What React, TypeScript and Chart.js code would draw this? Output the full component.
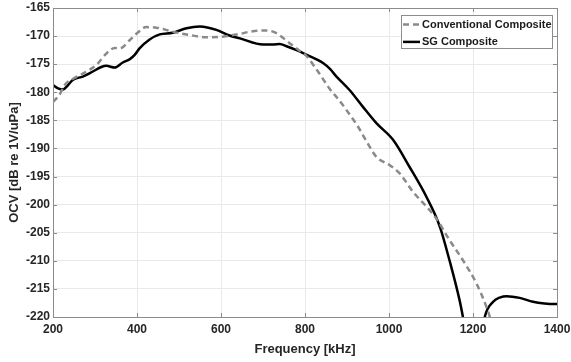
import React, { useEffect, useRef } from 'react';
import { Chart, registerables } from 'chart.js';

Chart.register(...registerables);

const convFreq = [200, 215, 228, 250, 270, 287, 305, 327, 347, 359, 383, 400, 422, 446, 465, 485, 525, 565, 604, 645, 670, 700, 724, 742, 764, 787, 803, 828, 859, 880, 899, 926, 950, 970, 1002, 1025, 1057, 1097, 1113, 1144, 1176, 1208, 1232, 1240, 1250];
const convOcv = [-181.7, -180.5, -178.7, -177.5, -176.7, -176, -175, -173.1, -172.1, -172.2, -170.7, -169.5, -168.4, -168.5, -168.8, -169.2, -169.8, -170.2, -170.1, -169.6, -169.2, -169.0, -169.2, -170.0, -171.3, -172.6, -173.5, -176, -179.4, -181.3, -183.2, -186.1, -189.2, -191.5, -193, -194.4, -197.7, -201, -202.5, -206.3, -209.9, -214, -218.2, -220, -223];

const sgFreq = [200, 212, 224, 235, 247, 271, 295, 315, 327, 347, 366, 383, 395, 406, 430, 454, 485, 518, 549, 570, 589, 620, 645, 700, 723, 740, 756, 780, 803, 843, 860, 875, 906, 938, 970, 1010, 1049, 1089, 1121, 1144, 1168, 1176, 1190, 1215, 1228, 1248, 1265, 1280, 1311, 1343, 1370, 1395, 1400];
const sgOcv = [-178.7, -179.3, -179.5, -178.8, -177.8, -177.2, -176.3, -175.5, -175.3, -175.6, -174.7, -174.1, -173.3, -172.2, -170.6, -169.7, -169.4, -168.6, -168.3, -168.5, -168.9, -169.9, -170.4, -171.5, -171.5, -171.4, -171.8, -172.5, -173.3, -174.8, -175.9, -177.2, -179.6, -182.6, -185.5, -188.5, -193.3, -198.6, -203.9, -209.9, -217, -220, -226, -226, -220, -217.3, -216.5, -216.3, -216.6, -217.3, -217.6, -217.7, -217.7];

const seriesNames = ['Conventional Composite', 'SG Composite'];
const xTitle = 'Frequency [kHz]';
const yTitle = 'OCV [dB re 1V/uPa]';
const xMin = 200, xMax = 1400, xStep = 200;
const yMin = -220, yMax = -165, yStep = 5;

const FONT = '"Liberation Sans", Arial, sans-serif';
const TEXT = '#262626';
const FRAME = '#8c8c8c';

const framePlugin = {
  id: 'frameBox',
  afterDraw(chart: any) {
    const { ctx, chartArea: a } = chart;
    ctx.save();
    ctx.strokeStyle = FRAME;
    ctx.lineWidth = 1;
    ctx.strokeRect(Math.round(a.left) + 0.5, Math.round(a.top) + 0.5, Math.round(a.right - a.left), Math.round(a.bottom - a.top));
    const xs = chart.scales.x, ys = chart.scales.y;
    ctx.beginPath();
    for (let v = xMin; v <= xMax; v += xStep) {
      const px = Math.round(xs.getPixelForValue(v)) + 0.5;
      ctx.moveTo(px, a.top); ctx.lineTo(px, a.top + 4);
      ctx.moveTo(px, a.bottom); ctx.lineTo(px, a.bottom - 4);
    }
    for (let v = yMin; v <= yMax; v += yStep) {
      const py = Math.round(ys.getPixelForValue(v)) + 0.5;
      ctx.moveTo(a.left, py); ctx.lineTo(a.left + 4, py);
      ctx.moveTo(a.right, py); ctx.lineTo(a.right - 4, py);
    }
    ctx.stroke();
    ctx.restore();
  },
};

const legendPlugin = {
  id: 'boxLegend',
  afterDraw(chart: any) {
    const { ctx, chartArea: a } = chart;
    const w = 151, h = 33;
    const x0 = Math.round(a.right - 156), y0 = Math.round(a.top + 7);
    ctx.save();
    ctx.fillStyle = '#ffffff';
    ctx.fillRect(x0, y0, w, h);
    ctx.strokeStyle = FRAME;
    ctx.lineWidth = 1;
    ctx.strokeRect(x0 + 0.5, y0 + 0.5, w, h);
    chart.data.datasets.forEach((ds: any, i: number) => {
      const y = y0 + 9.5 + i * 17.4;
      ctx.strokeStyle = ds.borderColor;
      ctx.lineWidth = ds.borderWidth;
      ctx.setLineDash(ds.borderDash || []);
      ctx.beginPath();
      ctx.moveTo(x0 + 2, y);
      ctx.lineTo(x0 + 19, y);
      ctx.stroke();
      ctx.setLineDash([]);
      ctx.fillStyle = '#1a1a1a';
      ctx.font = `bold 11px ${FONT}`;
      ctx.textBaseline = 'middle';
      ctx.textAlign = 'left';
      ctx.fillText(ds.label, x0 + 21, y + 0.5);
    });
    ctx.restore();
  },
};

export default function App() {
  const ref = useRef<HTMLCanvasElement>(null);
  useEffect(() => {
    if (!ref.current) return;
    const conv = convFreq.map((f, i) => ({ x: f, y: convOcv[i] }));
    const sg = sgFreq.map((f, i) => ({ x: f, y: sgOcv[i] }));
    const tickFont = { family: FONT, size: 12, weight: 'bold' as const };
    const titleFont = { family: FONT, size: 13, weight: 'bold' as const };
    const chart = new Chart(ref.current, {
      type: 'scatter',
      data: {
        datasets: [
          {
            label: seriesNames[0],
            data: conv,
            showLine: true,
            borderColor: '#8a8a8a',
            backgroundColor: '#8a8a8a',
            borderWidth: 2.5,
            borderDash: [6, 4],
            pointRadius: 0,
            cubicInterpolationMode: 'monotone',
            clip: 0,
          } as any,
          {
            label: seriesNames[1],
            data: sg,
            showLine: true,
            borderColor: '#000000',
            backgroundColor: '#000000',
            borderWidth: 2.5,
            pointRadius: 0,
            cubicInterpolationMode: 'monotone',
            clip: 0,
          } as any,
        ],
      },
      options: {
        responsive: false,
        animation: false,
        layout: { padding: { top: 8, right: 14, left: 0, bottom: 0 } },
        plugins: { legend: { display: false }, tooltip: { enabled: false } },
        scales: {
          x: {
            type: 'linear',
            min: xMin,
            max: xMax,
            ticks: { stepSize: xStep, padding: 5, color: TEXT, font: tickFont, maxRotation: 0, autoSkip: false, callback: (v: any) => String(v) },
            grid: { color: '#e9e9e9', drawTicks: false },
            border: { color: FRAME },
            title: { display: true, text: xTitle, color: TEXT, font: titleFont, padding: { top: 0, bottom: 5 } },
            afterFit: (s: any) => { s.height = 45; s.paddingLeft = 0; s.paddingRight = 0; },
          },
          y: {
            type: 'linear',
            min: yMin,
            max: yMax,
            ticks: { stepSize: yStep, padding: 3, color: TEXT, font: tickFont, autoSkip: false, callback: (v: any) => String(v) },
            grid: { color: '#e9e9e9', drawTicks: false },
            border: { color: FRAME },
            title: { display: true, text: yTitle, color: TEXT, font: titleFont, padding: { top: 7, bottom: 0 } },
            afterFit: (s: any) => { s.width = 53; s.paddingTop = 0; s.paddingBottom = 0; },
          },
        },
      },
      plugins: [framePlugin, legendPlugin],
    });
    return () => chart.destroy();
  }, []);
  return (
    <div style={{ position: 'fixed', left: 0, top: 0, width: 571, height: 362, background: '#ffffff' }}>
      <canvas ref={ref} width={571} height={362} style={{ display: 'block' }} />
    </div>
  );
}
